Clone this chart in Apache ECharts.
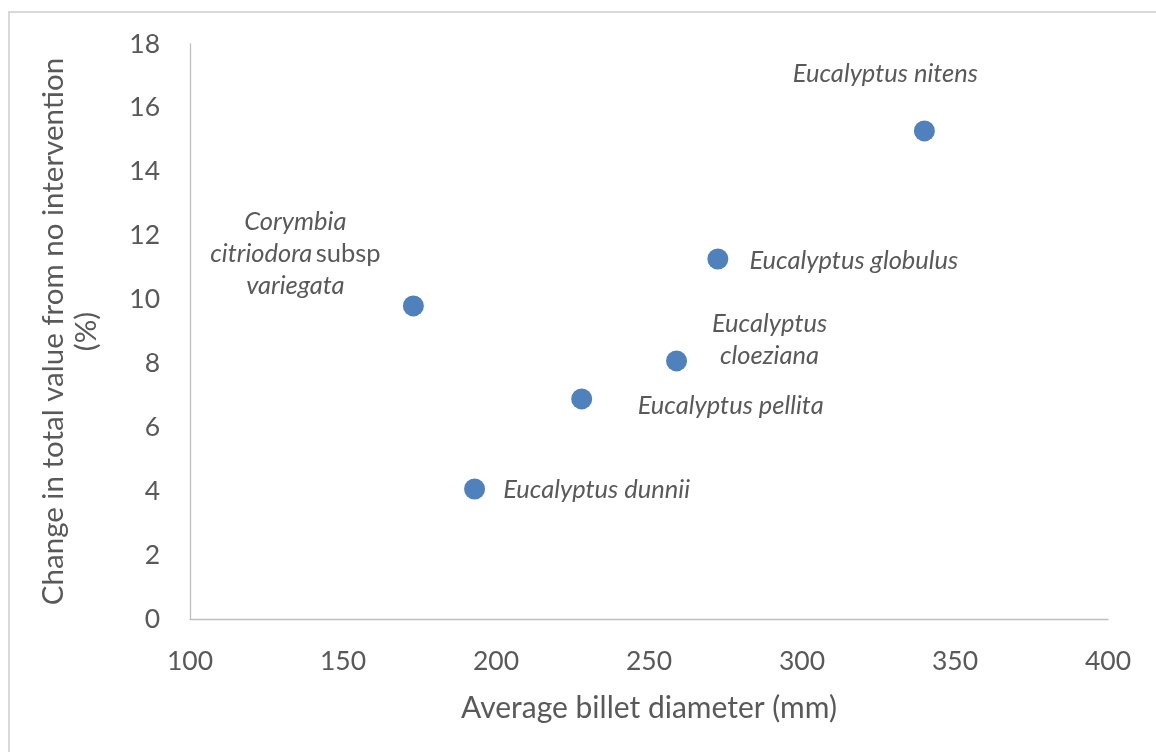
<!DOCTYPE html>
<html>
<head>
<meta charset="utf-8">
<script src="https://cdn.jsdelivr.net/npm/echarts@6/dist/echarts.min.js"></script>
<style>html,body{margin:0;padding:0;background:#fff;}#c{width:1156px;height:752px;}</style>
</head>
<body>
<div id="c"></div>
<script>
const species = ['Corymbia citriodora subsp variegata','Eucalyptus dunnii','Eucalyptus pellita','Eucalyptus cloeziana','Eucalyptus globulus','Eucalyptus nitens'];
const diameters = [173, 193, 228, 259, 272.5, 340];
const valueChange = [9.8, 4.07, 6.89, 8.08, 11.27, 15.28];
const xTicks = [100, 150, 200, 250, 300, 350, 400];
const yTicks = [0, 2, 4, 6, 8, 10, 12, 14, 16, 18];

const FONT = 'Lato';
const TXT = '#595959';
// label placement (style), one per point
const labelFmt = [
  '{i|Corymbia}\n{i|citriodora} {n|subsp}\n{i|variegata}',
  '{i|Eucalyptus dunnii}',
  '{i|Eucalyptus pellita}',
  '{i|Eucalyptus}\n{i|cloeziana}',
  '{i|Eucalyptus globulus}',
  '{i|Eucalyptus nitens}'
];
const labelOff = [[-118,-52],[122,1],[149,7],[93,-21],[136,2],[-39,-57]];

const chart = echarts.init(document.getElementById('c'));
chart.setOption({
  backgroundColor: '#fff',
  animation: false,
  graphic: [{
    type: 'rect', shape: {x: 9, y: 12, width: 1160, height: 760},
    style: {fill: 'none', stroke: '#d9d9d9', lineWidth: 2}, silent: true, z: -1
  }],
  grid: {left: 190, top: 44, right: 48, bottom: 133},
  xAxis: {
    type: 'value', min: 100, max: 400, interval: 50,
    name: 'Average billet diameter (mm)', nameLocation: 'middle', nameGap: 74,
    nameTextStyle: {fontFamily: FONT, fontSize: 30, color: TXT},
    axisLine: {show: true, lineStyle: {color: '#bfbfbf', width: 1.3}},
    axisTick: {show: false}, splitLine: {show: false},
    axisLabel: {fontFamily: FONT, fontSize: 26.5, color: TXT, margin: 29,
      formatter: v => xTicks.includes(v) ? String(v) : ''}
  },
  yAxis: {
    type: 'value', min: 0, max: 18, interval: 2,
    name: 'Change in total value from no intervention\n(%)', nameLocation: 'middle', nameGap: 87,
    nameTextStyle: {fontFamily: FONT, fontSize: 29.5, color: TXT, lineHeight: 33},
    axisLine: {show: true, lineStyle: {color: '#bfbfbf', width: 1.3}},
    axisTick: {show: false}, splitLine: {show: false},
    axisLabel: {fontFamily: FONT, fontSize: 26.5, color: TXT, margin: 30,
      formatter: v => yTicks.includes(v) ? String(v) : ''}
  },
  series: [{
    type: 'scatter',
    symbolSize: 21,
    itemStyle: {color: '#4f81bd', opacity: 1},
    data: diameters.map((d, i) => ({
      value: [d, valueChange[i]],
      name: species[i],
      label: {
        show: true, position: 'inside', align: 'center', verticalAlign: 'middle',
        offset: labelOff[i], formatter: labelFmt[i], lineHeight: 32,
        rich: {
          i: {fontFamily: FONT, fontStyle: 'italic', fontSize: 25.5, color: TXT, lineHeight: 32},
          n: {fontFamily: FONT, fontSize: 25.5, color: TXT, lineHeight: 32}
        }
      }
    }))
  }]
});
</script>
</body>
</html>
